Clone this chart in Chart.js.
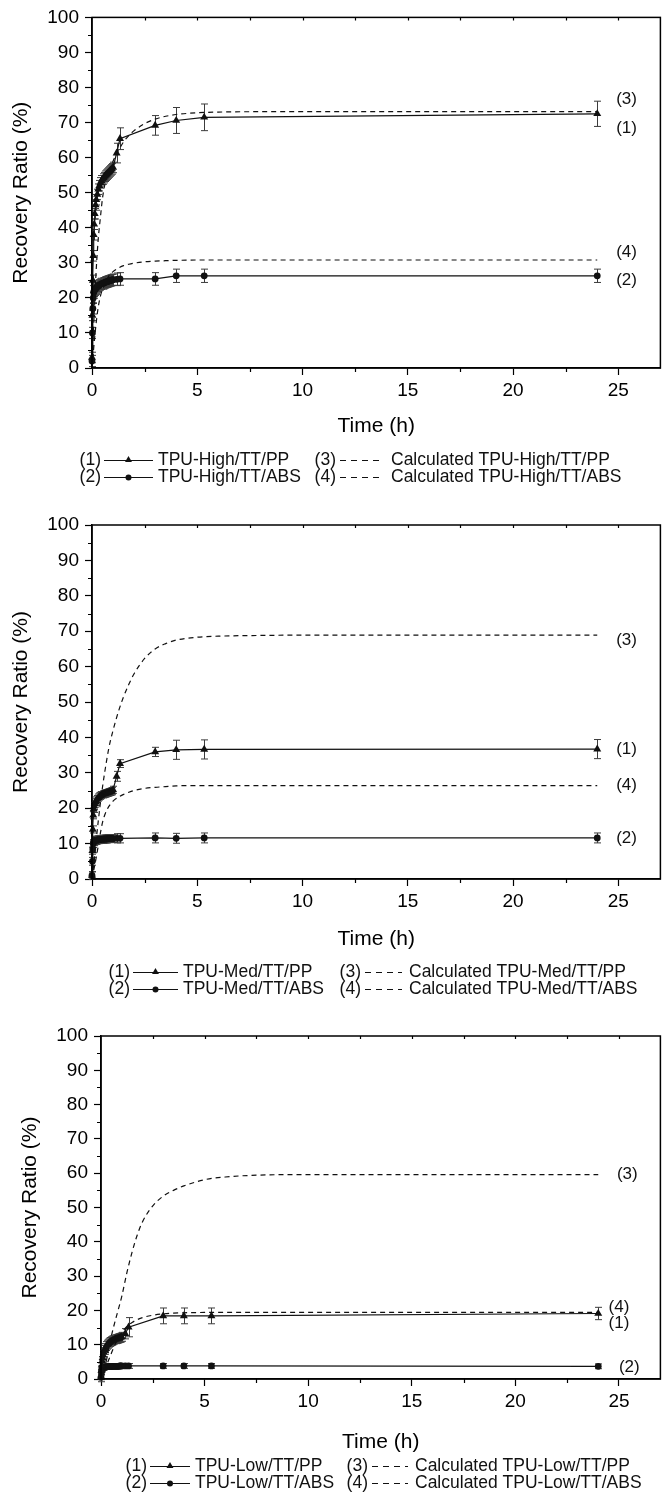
<!DOCTYPE html>
<html>
<head>
<meta charset="utf-8">
<title>Recovery ratio vs time</title>
<script src="https://cdn.jsdelivr.net/npm/chart.js@4.4.1/dist/chart.umd.min.js"></script>
<style>
  html, body { margin: 0; padding: 0; background: #fff; }
  #page { position: relative; width: 665px; height: 1499px; }
  #page canvas { position: absolute; left: 0; }
</style>
</head>
<body>
<div id="page">
  <canvas id="panelHigh" width="665" height="500" style="top:0px"></canvas>
  <canvas id="panelMed" width="665" height="515" style="top:500px"></canvas>
  <canvas id="panelLow" width="665" height="484" style="top:1015px"></canvas>
</div>
<script>
// measurement times (h), shared by the PP and ABS runs
const timeExp = [0, 0.02, 0.04, 0.06, 0.08, 0.1, 0.13, 0.17, 0.2, 0.25, 0.3, 0.35, 0.4, 0.45, 0.5,
  0.55, 0.6, 0.65, 0.7, 0.75, 0.8, 0.85, 0.9, 0.95, 1.0, 1.17, 1.33, 3, 4, 5.33, 24];
// times for the calculated curves
const timeCalc = [0, 0.1, 0.2, 0.3, 0.4, 0.5, 0.6, 0.8, 1.0, 1.25, 1.5, 1.75, 2, 2.5, 3, 3.5, 4, 5, 6, 8, 10, 24];

// TPU-High
const highPP = [3, 15, 25, 32, 38, 41, 44, 46.5, 48, 49.5, 51, 52, 52.8, 53.4, 53.9, 54.3, 54.7, 55, 55.3, 55.6,
  55.9, 56.2, 56.5, 56.8, 57.2, 61.3, 65.4, 69.2, 70.6, 71.5, 72.5];
const highPPErr = [1.5, 1.5, 1.5, 1.5, 1.5, 1.5, 1.5, 1.5, 1.5, 1.5, 1.5, 1.5, 1.5, 1.5, 1.5, 1.5, 1.5, 1.5, 1.5, 1.5,
  1.5, 1.5, 1.5, 1.5, 1.5, 2.8, 3.1, 2.8, 3.7, 3.8, 3.6];
const highABS = [2, 10, 17, 20, 21.5, 22, 22.3, 22.6, 22.9, 23.2, 23.4, 23.6, 23.8, 24, 24.1, 24.2, 24.4, 24.5, 24.6, 24.7,
  24.8, 24.9, 25, 25.1, 25.2, 25.3, 25.4, 25.4, 26.3, 26.3, 26.3];
const highABSErr = [1.6, 1.6, 1.6, 1.6, 1.6, 1.6, 1.6, 1.6, 1.6, 1.6, 1.6, 1.6, 1.6, 1.6, 1.6, 1.6, 1.6, 1.6, 1.6, 1.6,
  1.6, 1.6, 1.6, 1.6, 1.6, 1.8, 1.8, 1.8, 1.9, 1.9, 1.9];
const highCalcPP = [0, 15, 28, 37, 43, 48.5, 52, 56, 59, 62, 64.5, 66.3, 67.7, 69.7, 71, 71.8, 72.3, 72.8, 73, 73.1, 73.1, 73.1];
const highCalcABS = [0, 7, 13, 17.5, 20.5, 22.5, 24, 26.2, 27.5, 28.5, 29.2, 29.6, 29.9, 30.3, 30.5, 30.6, 30.7, 30.8, 30.8, 30.8, 30.8, 30.8];
const highTags = ['(3)', '(1)', '(4)', '(2)'];
const highTagX = [24.9, 24.9, 24.9, 24.9];
const highTagY = [76.5, 68.5, 33, 25];

// TPU-Med
const medPP = [1, 8, 14, 18, 19.8, 20.6, 21.3, 21.8, 22.2, 22.6, 23, 23.3, 23.5, 23.7, 23.9, 24, 24.1, 24.2, 24.3, 24.4,
  24.5, 24.6, 24.7, 24.8, 25.2, 29, 32.6, 35.9, 36.5, 36.6, 36.7];
const medPPErr = [1, 1, 1, 1, 1, 1, 1, 1, 1, 1, 1, 1, 1, 1, 1, 1, 1, 1, 1, 1,
  1, 1, 1, 1, 1, 1.4, 1.1, 1.3, 2.7, 2.7, 2.7];
const medABS = [1, 5, 8.5, 10, 10.5, 10.7, 10.8, 10.9, 11, 11, 11.1, 11.1, 11.2, 11.2, 11.2, 11.3, 11.3, 11.3, 11.3, 11.4,
  11.4, 11.4, 11.4, 11.4, 11.4, 11.5, 11.5, 11.6, 11.5, 11.6, 11.6];
const medABSErr = [1.1, 1.1, 1.1, 1.1, 1.1, 1.1, 1.1, 1.1, 1.1, 1.1, 1.1, 1.1, 1.1, 1.1, 1.1, 1.1, 1.1, 1.1, 1.1, 1.1,
  1.1, 1.1, 1.1, 1.1, 1.1, 1.3, 1.3, 1.4, 1.4, 1.4, 1.4];
const medCalcPP = [0, 5, 11, 16.5, 21.5, 26, 30, 37, 42, 47.2, 51.5, 55, 58, 62.3, 65, 66.5, 67.5, 68.3, 68.6, 68.8, 68.9, 68.9];
const medCalcABS = [0, 3, 6, 9.5, 13, 16, 18, 20.5, 22, 23.1, 23.9, 24.5, 25, 25.6, 25.9, 26.1, 26.3, 26.4, 26.4, 26.4, 26.4, 26.4];
const medTags = ['(3)', '(1)', '(4)', '(2)'];
const medTagX = [24.9, 24.9, 24.9, 24.9];
const medTagY = [67.5, 36.5, 26.5, 11.5];

// TPU-Low
const lowPP = [0.5, 2.5, 4, 5.2, 6.2, 7, 7.8, 8.5, 9, 9.6, 10, 10.3, 10.6, 10.8, 11, 11.2, 11.3, 11.5, 11.6, 11.7,
  11.8, 11.9, 12, 12.1, 12.3, 13.2, 15.1, 18.4, 18.4, 18.4, 19.1];
const lowPPErr = [1.3, 1.3, 1.3, 1.3, 1.3, 1.3, 1.3, 1.3, 1.3, 1.3, 1.3, 1.3, 1.3, 1.3, 1.3, 1.3, 1.3, 1.3, 1.3, 1.3,
  1.3, 1.3, 1.3, 1.3, 1.3, 1.5, 2.8, 2.3, 2.3, 2.3, 1.8];
const lowABS = [0.5, 2, 2.8, 3.1, 3.3, 3.4, 3.4, 3.5, 3.5, 3.5, 3.6, 3.6, 3.6, 3.6, 3.7, 3.7, 3.7, 3.7, 3.7, 3.7,
  3.7, 3.7, 3.8, 3.8, 3.8, 3.8, 3.8, 3.8, 3.8, 3.8, 3.7];
const lowABSErr = [0.7, 0.7, 0.7, 0.7, 0.7, 0.7, 0.7, 0.7, 0.7, 0.7, 0.7, 0.7, 0.7, 0.7, 0.7, 0.7, 0.7, 0.7, 0.7, 0.7,
  0.7, 0.7, 0.7, 0.7, 0.7, 0.7, 0.7, 0.7, 0.7, 0.7, 0.7];
const lowCalcPP = [0, 2, 4, 6.5, 10, 12.5, 15, 19.5, 24, 31, 37, 42, 45.8, 50.5, 53.3, 55, 56.3, 58.1, 58.9, 59.5, 59.6, 59.6];
const lowCalcABS = [0, 1.5, 3, 4.5, 6, 7.5, 9, 11.5, 13.5, 15.3, 16.5, 17.3, 17.9, 18.6, 19, 19.2, 19.3, 19.4, 19.4, 19.4, 19.4, 19.4];
const lowTags = ['(3)', '(4)', '(1)', '(2)'];
const lowTagX = [24.9, 24.5, 24.5, 25];
const lowTagY = [59.6, 21, 16.3, 3.5];

const FONT = "'Liberation Sans', Arial, sans-serif";
const INK = '#111';

// layout of each panel, in canvas pixels
const panels = [
  {
    id: 'panelHigh', grade: 'High',
    pp: highPP, ppErr: highPPErr, abs: highABS, absErr: highABSErr,
    calcPP: highCalcPP, calcABS: highCalcABS, tags: highTags, tagX: highTagX, tagY: highTagY,
    geo: { left: 92, top: 15, right: 661, bottom: 368, height: 500, xAxisH: 71, titleX: 9,
      rows: [460, 477], cols: { l1: 104, l2: 153, n3: 336, d1: 340, d2: 384 } }
  },
  {
    id: 'panelMed', grade: 'Med',
    pp: medPP, ppErr: medPPErr, abs: medABS, absErr: medABSErr,
    calcPP: medCalcPP, calcABS: medCalcABS, tags: medTags, tagX: medTagX, tagY: medTagY,
    geo: { left: 92, top: 25, right: 661, bottom: 379, height: 515, xAxisH: 73, titleX: 9,
      rows: [472, 489], cols: { l1: 133, l2: 178, n3: 361, d1: 365, d2: 402 } }
  },
  {
    id: 'panelLow', grade: 'Low',
    pp: lowPP, ppErr: lowPPErr, abs: lowABS, absErr: lowABSErr,
    calcPP: lowCalcPP, calcABS: lowCalcABS, tags: lowTags, tagX: lowTagX, tagY: lowTagY,
    geo: { left: 101, top: 21, right: 661, bottom: 364, height: 484, xAxisH: 76, titleX: 18,
      rows: [451, 468], cols: { l1: 150, l2: 190, n3: 368, d1: 372, d2: 408 } }
  }
];

function pairs(xs, ys) {
  return xs.map((t, i) => ({ x: t, y: ys[i] }));
}

function drawTriangle(ctx, x, y, r) {
  ctx.beginPath();
  ctx.moveTo(x, y - r);
  ctx.lineTo(x + r * 0.87, y + r * 0.5);
  ctx.lineTo(x - r * 0.87, y + r * 0.5);
  ctx.closePath();
  ctx.fill();
}

// error bars, frame, minor ticks, curve tags and the legend block
function decorPlugin(p) {
  return {
    id: 'decor',
    beforeDatasetsDraw(chart) {
      const { ctx, scales: { x, y } } = chart;
      ctx.save();
      ctx.strokeStyle = '#3c3c3c';
      ctx.lineWidth = 1;
      chart.data.datasets.forEach(ds => {
        if (!ds.errors) return;
        ds.data.forEach((pt, i) => {
          const e = ds.errors[i];
          const px = Math.round(x.getPixelForValue(pt.x)) + 0.5;
          const t = y.getPixelForValue(pt.y + e);
          const b = y.getPixelForValue(pt.y - e);
          ctx.beginPath();
          ctx.moveTo(px, t); ctx.lineTo(px, b);
          ctx.moveTo(px - 3.5, t); ctx.lineTo(px + 3.5, t);
          ctx.moveTo(px - 3.5, b); ctx.lineTo(px + 3.5, b);
          ctx.stroke();
        });
      });
      ctx.restore();
    },
    afterDraw(chart) {
      const { ctx, chartArea: a, scales: { x, y } } = chart;
      ctx.save();
      ctx.strokeStyle = '#000';
      ctx.lineWidth = 1.5;
      ctx.strokeRect(a.left, a.top, a.right - a.left, a.bottom - a.top);

      // minor ticks outside, small ticks inside the top edge
      ctx.lineWidth = 1.2;
      ctx.beginPath();
      for (let v = 5; v < 100; v += 10) {
        const py = Math.round(y.getPixelForValue(v)) + 0.5;
        ctx.moveTo(a.left - 4, py); ctx.lineTo(a.left, py);
      }
      for (let v = 2.5; v < 27; v += 5) {
        const px = Math.round(x.getPixelForValue(v)) + 0.5;
        ctx.moveTo(px, a.bottom); ctx.lineTo(px, a.bottom + 4);
      }
      for (let v = 2.5; v < 27; v += 2.5) {
        const px = Math.round(x.getPixelForValue(v)) + 0.5;
        ctx.moveTo(px, a.top); ctx.lineTo(px, a.top + 3);
      }
      ctx.stroke();

      // curve tags at the right end
      ctx.fillStyle = INK;
      ctx.font = '17px ' + FONT;
      ctx.textBaseline = 'middle';
      ctx.textAlign = 'left';
      p.tags.forEach((s, i) => {
        ctx.fillText(s, x.getPixelForValue(p.tagX[i]), y.getPixelForValue(p.tagY[i]));
      });

      // legend: (n) symbol name   (n+2) dashes Calculated name
      const c = p.geo.cols;
      const names = ['TPU-' + p.grade + '/TT/PP', 'TPU-' + p.grade + '/TT/ABS'];
      ctx.font = '17.5px ' + FONT;
      p.geo.rows.forEach((ry, r) => {
        ctx.fillStyle = INK;
        ctx.textAlign = 'right';
        ctx.fillText('(' + (r + 1) + ')', c.l1 - 3, ry);
        ctx.fillText('(' + (r + 3) + ')', c.n3, ry);
        ctx.textAlign = 'left';
        ctx.fillText(names[r], c.l2 + 5, ry);
        ctx.fillText('Calculated ' + names[r], c.d2 + 7, ry);
        ctx.lineWidth = 1.2;
        ctx.strokeStyle = INK;
        ctx.setLineDash([]);
        ctx.beginPath();
        ctx.moveTo(c.l1, ry + 0.5); ctx.lineTo(c.l2, ry + 0.5);
        ctx.stroke();
        const mx = (c.l1 + c.l2) / 2;
        if (r === 0) drawTriangle(ctx, mx, ry, 4);
        else { ctx.beginPath(); ctx.arc(mx, ry + 0.5, 3, 0, Math.PI * 2); ctx.fill(); }
        ctx.setLineDash([6, 5]);
        ctx.beginPath();
        ctx.moveTo(c.d1, ry + 0.5); ctx.lineTo(c.d2, ry + 0.5);
        ctx.stroke();
      });
      ctx.restore();
    }
  };
}

function buildPanel(p) {
  const g = p.geo;
  const expLine = {
    borderColor: INK, backgroundColor: INK, borderWidth: 1.2, tension: 0,
    pointBorderColor: INK, pointBackgroundColor: INK, pointBorderWidth: 0, clip: false
  };
  const calcLine = {
    borderColor: INK, borderWidth: 1.2, borderDash: [5, 4], pointRadius: 0,
    cubicInterpolationMode: 'monotone', clip: false
  };
  new Chart(document.getElementById(p.id), {
    type: 'line',
    data: {
      datasets: [
        Object.assign({ label: 'TPU-' + p.grade + '/TT/PP', data: pairs(timeExp, p.pp), errors: p.ppErr,
          pointStyle: 'triangle', pointRadius: 4.6 }, expLine),
        Object.assign({ label: 'TPU-' + p.grade + '/TT/ABS', data: pairs(timeExp, p.abs), errors: p.absErr,
          pointStyle: 'circle', pointRadius: 3.4 }, expLine),
        Object.assign({ label: 'Calculated TPU-' + p.grade + '/TT/PP', data: pairs(timeCalc, p.calcPP) }, calcLine),
        Object.assign({ label: 'Calculated TPU-' + p.grade + '/TT/ABS', data: pairs(timeCalc, p.calcABS) }, calcLine)
      ]
    },
    options: {
      responsive: false,
      animation: false,
      events: [],
      devicePixelRatio: 1,
      layout: { padding: { left: 0, top: g.top, right: 665 - g.right, bottom: g.height - g.bottom - g.xAxisH } },
      plugins: { legend: { display: false }, tooltip: { enabled: false } },
      scales: {
        x: {
          type: 'linear', min: 0, max: 27,
          ticks: { stepSize: 5, includeBounds: false, color: '#000', padding: 4,
            font: { family: FONT, size: 19 } },
          grid: { drawOnChartArea: false, tickLength: 7, tickColor: '#000', tickWidth: 1.2 },
          border: { color: '#000', width: 1.5 },
          title: { display: true, text: 'Time (h)', color: '#000', padding: 0,
            font: { family: FONT, size: 21 } },
          afterFit(scale) { scale.height = g.xAxisH; }
        },
        y: {
          type: 'linear', min: 0, max: 100,
          ticks: { stepSize: 10, color: '#000', padding: 6, font: { family: FONT, size: 19 } },
          grid: { drawOnChartArea: false, tickLength: 7, tickColor: '#000', tickWidth: 1.2 },
          border: { color: '#000', width: 1.5 },
          title: { display: true, text: 'Recovery Ratio (%)', color: '#000',
            padding: { top: g.titleX, bottom: 0 }, font: { family: FONT, size: 21 } },
          afterFit(scale) { scale.width = g.left; }
        }
      }
    },
    plugins: [decorPlugin(p)]
  });
}

panels.forEach(buildPanel);
</script>
</body>
</html>
